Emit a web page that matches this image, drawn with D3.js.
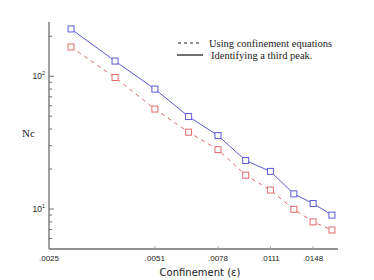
<!DOCTYPE html>
<html>
<head>
<meta charset="utf-8">
<script src="https://cdn.jsdelivr.net/npm/d3@7"></script>
<style>
  html, body { margin: 0; padding: 0; background: #fff; }
  svg { display: block; }
</style>
</head>
<body>
<div id="chart"></div>
<script>
// confinement values (x) and Nc for both methods
var eps = [0.0029, 0.0039, 0.0051, 0.0064, 0.0078, 0.0094, 0.0111, 0.0130, 0.0148, 0.0168];
var ncPeak = [227, 130, 80, 49.7, 35.7, 23.2, 19.2, 13.0, 11.0, 9.0];
var ncEquations = [166, 97.8, 56.6, 37.9, 28.0, 18.0, 13.9, 9.95, 8.0, 6.95];

var xTicks = [0.0025, 0.0051, 0.0078, 0.0111, 0.0148];
var xTickLabels = ['.0025', '.0051', '.0078', '.0111', '.0148'];
var yMajor = [10, 100];
var yMajorExp = ['1', '2'];
var yMinor = [6, 7, 8, 9, 20, 30, 40, 50, 60, 70, 80, 90, 200];

var legendLabels = ['Using confinement equations', 'Identifying a third peak.'];

var W = 374, H = 280;
var margin = { top: 22, right: 36, bottom: 31, left: 49 };

var svg = d3.select('#chart').append('svg').attr('width', W).attr('height', H);

var x = d3.scaleLog().domain([0.0025, 0.0175]).range([margin.left, W - margin.right]);
var y = d3.scaleLog().domain([5, 256]).range([H - margin.bottom, margin.top]);

var axisColor = '#6e6e6e';
var blue = '#5a5ad6';
var red = '#e26a6a';

// axis lines
svg.append('line').attr('x1', margin.left).attr('x2', margin.left)
  .attr('y1', margin.top).attr('y2', H - margin.bottom)
  .attr('stroke', axisColor).attr('stroke-width', 1.3);
svg.append('line').attr('x1', margin.left).attr('x2', W - margin.right)
  .attr('y1', H - margin.bottom).attr('y2', H - margin.bottom)
  .attr('stroke', axisColor).attr('stroke-width', 1.3);

// y ticks (inside)
svg.selectAll('.ymin').data(yMinor).enter().append('line')
  .attr('x1', margin.left).attr('x2', margin.left + 3)
  .attr('y1', function(d) { return y(d); }).attr('y2', function(d) { return y(d); })
  .attr('stroke', axisColor).attr('stroke-width', 1);
svg.selectAll('.ymaj').data(yMajor).enter().append('line')
  .attr('x1', margin.left).attr('x2', margin.left + 5)
  .attr('y1', function(d) { return y(d); }).attr('y2', function(d) { return y(d); })
  .attr('stroke', axisColor).attr('stroke-width', 1);

var yl = svg.selectAll('.ylab').data(yMajor).enter().append('text')
  .attr('x', 42).attr('y', function(d) { return y(d) + 3; })
  .attr('text-anchor', 'end')
  .attr('font-family', 'Liberation Sans, Arial, sans-serif').attr('font-size', 8.5)
  .attr('fill', '#222');
yl.append('tspan').text('10');
yl.append('tspan').attr('dy', -4).attr('font-size', 5.5)
  .text(function(d, i) { return yMajorExp[i]; });
// keep right edge at 44.5 including exponent
yl.attr('x', 45);

// x ticks (inside, faint)
svg.selectAll('.xt').data(xTicks).enter().append('line')
  .attr('x1', function(d) { return x(d); }).attr('x2', function(d) { return x(d); })
  .attr('y1', H - margin.bottom).attr('y2', H - margin.bottom - 3)
  .attr('stroke', '#aaa').attr('stroke-width', 1);
svg.selectAll('.xl').data(xTicks).enter().append('text')
  .attr('x', function(d) { return x(d); }).attr('y', 261)
  .attr('text-anchor', 'middle')
  .attr('font-family', 'Liberation Sans, Arial, sans-serif').attr('font-size', 8)
  .attr('fill', '#222')
  .text(function(d, i) { return xTickLabels[i]; });

// axis titles
svg.append('text').attr('x', 200).attr('y', 276).attr('text-anchor', 'middle')
  .attr('font-family', 'DejaVu Sans, Verdana, sans-serif').attr('font-size', 10)
  .attr('fill', '#222').text('Confinement (\u03b5)');
svg.append('text').attr('x', 22).attr('y', 137)
  .attr('font-family', 'Liberation Serif, Times New Roman, serif').attr('font-size', 11)
  .attr('fill', '#222').text('Nc');

// series
var line = d3.line()
  .x(function(d) { return x(d[0]); })
  .y(function(d) { return y(d[1]); });

function drawSeries(values, color, dash) {
  var pts = eps.map(function(e, i) { return [e, values[i]]; });
  svg.append('path').datum(pts).attr('d', line)
    .attr('fill', 'none').attr('stroke', color).attr('stroke-width', 1)
    .attr('stroke-dasharray', dash);
  svg.selectAll(null).data(pts).enter().append('rect')
    .attr('x', function(d) { return x(d[0]) - 3; })
    .attr('y', function(d) { return y(d[1]) - 3; })
    .attr('width', 6).attr('height', 6)
    .attr('fill', '#fff').attr('stroke', color).attr('stroke-width', 1);
}
drawSeries(ncEquations, red, '4,4');
drawSeries(ncPeak, blue, null);

// legend
var leg = svg.append('g');
leg.append('line').attr('x1', 178).attr('x2', 202).attr('y1', 43).attr('y2', 43)
  .attr('stroke', '#222').attr('stroke-width', 1).attr('stroke-dasharray', '3,3');
leg.append('line').attr('x1', 177).attr('x2', 203).attr('y1', 55).attr('y2', 55)
  .attr('stroke', '#222').attr('stroke-width', 1.3);
leg.append('text').attr('x', 209).attr('y', 46.5)
  .attr('font-family', 'Liberation Serif, Times New Roman, serif').attr('font-size', 10.5)
  .attr('fill', '#222').text(legendLabels[0]);
leg.append('text').attr('x', 211).attr('y', 58.5)
  .attr('font-family', 'Liberation Serif, Times New Roman, serif').attr('font-size', 10.5)
  .attr('fill', '#222').text(legendLabels[1]);
</script>
</body>
</html>
